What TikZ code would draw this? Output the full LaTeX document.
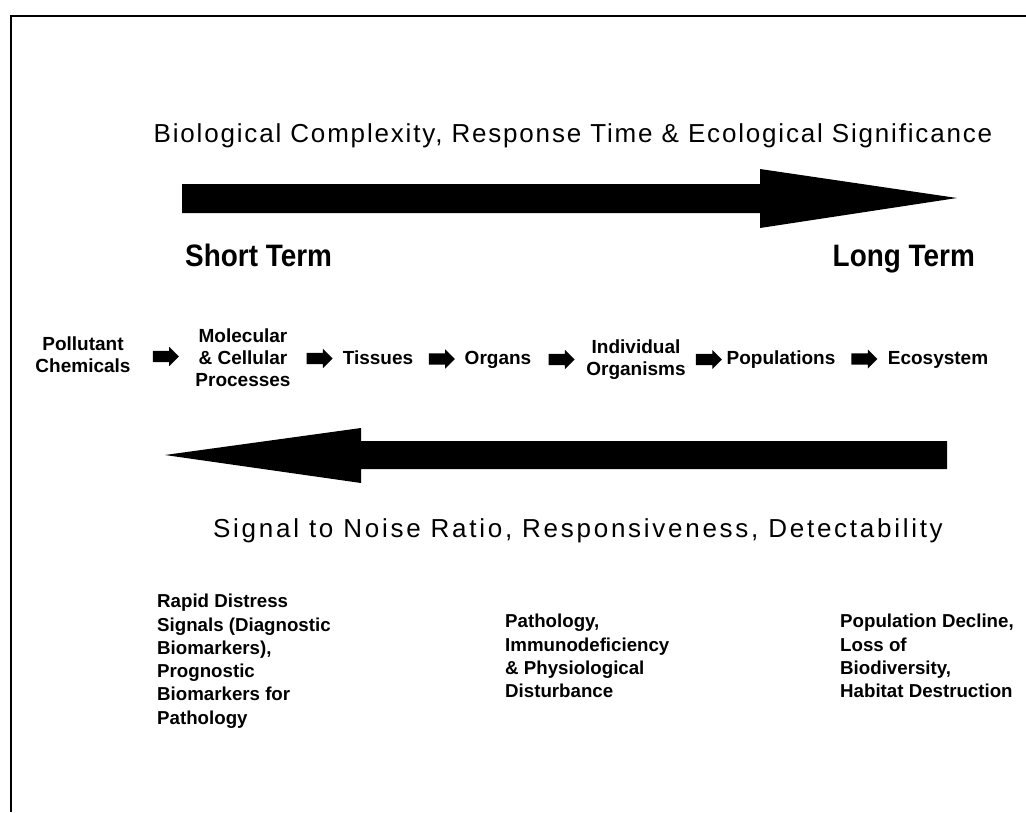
\documentclass[tikz,border=0pt]{standalone}
\usepackage{fontspec}
\setmainfont{Liberation Sans}
\newfontfamily\titlefont[LetterSpace=7]{Liberation Sans}
\newfontfamily\signalfont[LetterSpace=10.5]{Liberation Sans}
\newfontfamily\termfont[FakeStretch=0.9]{Liberation Sans}
\usetikzlibrary{shapes.arrows}

\tikzset{
  level/.style={font=\bfseries\fontsize{19}{22}\selectfont, align=center, inner sep=0pt},
  stage/.style={level, text height=14pt, text depth=4pt},
  effect/.style={font=\bfseries\fontsize{18.7}{23.3}\selectfont, align=left, anchor=north west, inner sep=0pt},
  heading/.style={font=\fontsize{26}{30}\selectfont, inner sep=0pt},
  term/.style={font=\termfont\bfseries\fontsize{31}{34}\selectfont, inner sep=0pt},
  stagearrow/.style={single arrow, fill=black, draw=none, inner sep=5.5pt,
    minimum height=26pt, single arrow head extend=4pt},
}

\begin{document}
\begin{tikzpicture}[x=1pt,y=-1pt]
\useasboundingbox (0,0) rectangle (1026,812);
\draw [line width=1.5pt] (11,812) -- (11,16) -- (1026,16);

% complexity / time axis
\node [heading, font=\titlefont\fontsize{26}{30}\selectfont] (bio) at (573,136) {Biological Complexity, Response Time \& Ecological Significance};
\fill (182,184) -- (760,184) -- (760,169) -- (957,198) -- (760,228) -- (760,213) -- (182,213) -- cycle;
\node [term, anchor=base west] (short) at (185,266) {Short Term};
\node [term, anchor=base east] (long) at (975,266) {Long Term};

% levels of organisation
\node [level] (pol) at (83,355) {Pollutant\\Chemicals};
\node [level] (mol) at (243,358) {Molecular\\\& Cellular\\Processes};
\node [stage] (tis) at (378,359) {Tissues};
\node [stage] (org) at (498,359) {Organs};
\node [level] (ind) at (636,360) {Individual\\Organisms};
\node [stage] (popu) at (781,359) {Populations};
\node [stage] (eco) at (938,359) {Ecosystem};

\path (pol.east) -- node [stagearrow] {} (mol.west);
\path (mol.east) -- node [stagearrow] {} (tis.west);
\path (tis.east) -- node [stagearrow] {} (org.west);
\path (org.east) -- node [stagearrow] {} (ind.west);
\path (ind.east) -- node [stagearrow] {} (popu.west);
\path (popu.east) -- node [stagearrow] {} (eco.west);

% signal axis
\fill (165,455) -- (361,428) -- (361,441) -- (947,441) -- (947,469) -- (361,469) -- (361,483) -- cycle;
\node [heading, font=\signalfont\fontsize{26}{30}\selectfont] (sig) at (578,531) {Signal to Noise Ratio, Responsiveness, Detectability};

% effects
\node [effect] (rapid) at (157,594) {Rapid Distress\\Signals (Diagnostic\\Biomarkers),\\Prognostic\\Biomarkers for\\Pathology};
\node [effect] (path) at (505,614) {Pathology,\\Immunodeficiency\\\& Physiological\\Disturbance};
\node [effect] (decl) at (840,614) {Population Decline,\\Loss of\\Biodiversity,\\Habitat Destruction};
\end{tikzpicture}
\end{document}
